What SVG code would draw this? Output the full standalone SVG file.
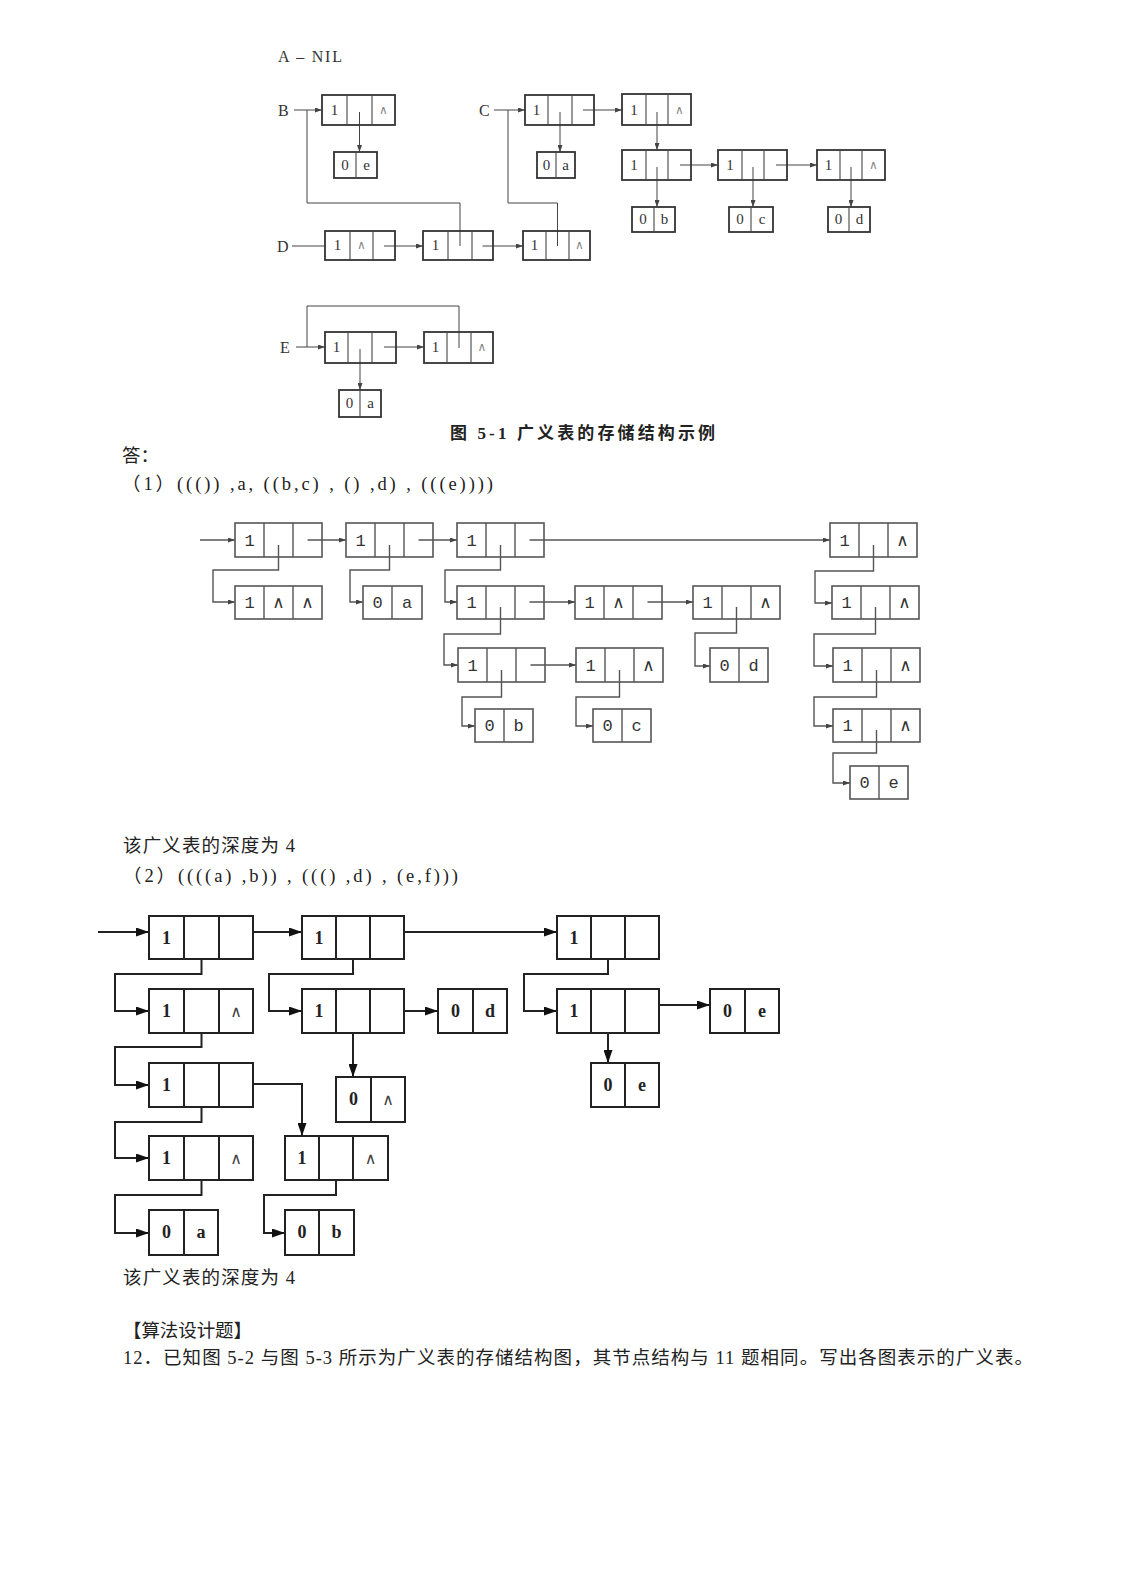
<svg xmlns="http://www.w3.org/2000/svg" width="1125" height="1577" viewBox="0 0 1125 1577">
<defs>
<style>
.bg{fill:#fff}
.f1 rect{fill:none;stroke:#333;stroke-width:1.8}
.f1 line{stroke:#444;stroke-width:1.1}
.f1 text{font-family:"Liberation Serif",serif;font-size:15px;fill:#333;text-anchor:middle}
.f1 .lam{font-family:"DejaVu Sans",sans-serif;font-size:12px;fill:#888}
.c1{fill:none;stroke:#444;stroke-width:1}
.f2 rect{fill:none;stroke:#555;stroke-width:1.6}
.f2 line{stroke:#555;stroke-width:1.4}
.f2 text{font-family:"Liberation Mono",monospace;font-size:17px;fill:#333;text-anchor:middle}
.f2 .lam{font-family:"DejaVu Sans",sans-serif;font-size:17px;fill:#333}
.c2{fill:none;stroke:#555;stroke-width:1.4}
.f3 rect{fill:none;stroke:#222;stroke-width:2}
.f3 line{stroke:#222;stroke-width:2}
.f3 text{font-family:"Liberation Serif",serif;font-size:18px;font-weight:bold;fill:#222;text-anchor:middle}
.f3 .lam{font-family:"DejaVu Sans",sans-serif;font-size:16px;font-weight:normal;fill:#444}
.c3{fill:none;stroke:#222;stroke-width:2}
.lbl{font-family:"Liberation Serif",serif;font-size:16px;fill:#333}
.txt{font-family:"Liberation Serif","Noto Sans CJK SC",serif;font-size:18.5px;fill:#222}
.txtb{font-family:"Liberation Serif","Noto Sans CJK SC",serif;font-size:17px;font-weight:bold;fill:#222}
</style>
<marker id="a1" viewBox="0 0 10 10" refX="10" refY="5" markerWidth="7" markerHeight="5" markerUnits="userSpaceOnUse" orient="auto" preserveAspectRatio="none"><path d="M0,0 L10,5 L0,10 z" fill="#444"/></marker>
<marker id="a2" viewBox="0 0 10 10" refX="10" refY="5" markerWidth="7" markerHeight="5" markerUnits="userSpaceOnUse" orient="auto" preserveAspectRatio="none"><path d="M0,0 L10,5 L0,10 z" fill="#444"/></marker>
<marker id="a3" viewBox="0 0 10 10" refX="10" refY="5" markerWidth="13" markerHeight="9" markerUnits="userSpaceOnUse" orient="auto" preserveAspectRatio="none"><path d="M0,0 L10,5 L0,10 z" fill="#111"/></marker>
</defs>
<rect class="bg" x="0" y="0" width="1125" height="1577"/>

<!-- ===== Figure 5-1 ===== -->
<text class="lbl" x="278" y="62" font-size="15" textLength="64" lengthAdjust="spacing">A – NIL</text>
<text class="lbl" x="278" y="116">B</text>
<text class="lbl" x="479" y="116">C</text>
<text class="lbl" x="277" y="252">D</text>
<text class="lbl" x="280" y="353">E</text>

<g id="fig1-connectors">
<path class="c1" d="M294,110 H307"/>
<path class="c1" d="M460,246 V203 H307 V110 H322" marker-end="url(#a1)"/>
<path class="c1" d="M494,110 H508"/>
<path class="c1" d="M557.5,246 V203 H508 V110 H525" marker-end="url(#a1)"/>
<path class="c1" d="M359.5,112 V152" marker-end="url(#a1)"/>
<path class="c1" d="M560,112 V152" marker-end="url(#a1)"/>
<path class="c1" d="M583,110 H622" marker-end="url(#a1)"/>
<path class="c1" d="M657,112 V150" marker-end="url(#a1)"/>
<path class="c1" d="M657,167 V207" marker-end="url(#a1)"/>
<path class="c1" d="M680,165 H718" marker-end="url(#a1)"/>
<path class="c1" d="M753,167 V207" marker-end="url(#a1)"/>
<path class="c1" d="M776,165 H817" marker-end="url(#a1)"/>
<path class="c1" d="M851,167 V207" marker-end="url(#a1)"/>
<path class="c1" d="M292,246 H325"/>
<path class="c1" d="M384,246 H423" marker-end="url(#a1)"/>
<path class="c1" d="M482.5,246 H523" marker-end="url(#a1)"/>
<path class="c1" d="M296,347 H307"/>
<path class="c1" d="M459,348 V306 H307 V347 H325" marker-end="url(#a1)"/>
<path class="c1" d="M360,349 V390" marker-end="url(#a1)"/>
<path class="c1" d="M384,347 H424" marker-end="url(#a1)"/>
</g>

<g class="f1">
<g id="B1"><rect x="322" y="95" width="73" height="30"/><line x1="347" y1="95" x2="347" y2="125"/><line x1="372" y1="95" x2="372" y2="125"/><text x="334.5" y="115">1</text><text class="lam" x="383.5" y="114">∧</text></g>
<g id="B_0e"><rect x="334" y="152" width="43" height="26"/><line x1="356" y1="152" x2="356" y2="178"/><text x="345" y="170">0</text><text x="366.5" y="170">e</text></g>
<g id="C1"><rect x="525" y="95" width="69" height="30"/><line x1="548" y1="95" x2="548" y2="125"/><line x1="572" y1="95" x2="572" y2="125"/><text x="536.5" y="115">1</text></g>
<g id="C_0a"><rect x="537" y="152" width="38" height="26"/><line x1="556" y1="152" x2="556" y2="178"/><text x="546.5" y="170">0</text><text x="565.5" y="170">a</text></g>
<g id="C2"><rect x="622" y="94" width="69" height="31"/><line x1="646" y1="94" x2="646" y2="125"/><line x1="668" y1="94" x2="668" y2="125"/><text x="634" y="115">1</text><text class="lam" x="679.5" y="114">∧</text></g>
<g id="C3"><rect x="622" y="150" width="69" height="30"/><line x1="646" y1="150" x2="646" y2="180"/><line x1="668" y1="150" x2="668" y2="180"/><text x="634" y="170">1</text></g>
<g id="C_0b"><rect x="632" y="207" width="43" height="25"/><line x1="654" y1="207" x2="654" y2="232"/><text x="643" y="224">0</text><text x="664.5" y="224">b</text></g>
<g id="C4"><rect x="718" y="150" width="69" height="30"/><line x1="742" y1="150" x2="742" y2="180"/><line x1="764" y1="150" x2="764" y2="180"/><text x="730" y="170">1</text></g>
<g id="C_0c"><rect x="729" y="207" width="44" height="25"/><line x1="751" y1="207" x2="751" y2="232"/><text x="740" y="224">0</text><text x="762" y="224">c</text></g>
<g id="C5"><rect x="817" y="150" width="68" height="30"/><line x1="840" y1="150" x2="840" y2="180"/><line x1="862" y1="150" x2="862" y2="180"/><text x="828.5" y="170">1</text><text class="lam" x="873.5" y="169">∧</text></g>
<g id="C_0d"><rect x="828" y="207" width="42" height="25"/><line x1="849" y1="207" x2="849" y2="232"/><text x="838.5" y="224">0</text><text x="859.5" y="224">d</text></g>
<g id="D1"><rect x="325" y="231" width="70" height="29"/><line x1="350" y1="231" x2="350" y2="260"/><line x1="373" y1="231" x2="373" y2="260"/><text x="337.5" y="250">1</text><text class="lam" x="361.5" y="249">∧</text></g>
<g id="D2"><rect x="423" y="231" width="70" height="29"/><line x1="448" y1="231" x2="448" y2="260"/><line x1="472" y1="231" x2="472" y2="260"/><text x="435.5" y="250">1</text></g>
<g id="D3"><rect x="523" y="231" width="67" height="29"/><line x1="546" y1="231" x2="546" y2="260"/><line x1="569" y1="231" x2="569" y2="260"/><text x="534.5" y="250">1</text><text class="lam" x="579.5" y="249">∧</text></g>
<g id="E1"><rect x="325" y="332" width="71" height="31"/><line x1="348" y1="332" x2="348" y2="363"/><line x1="372" y1="332" x2="372" y2="363"/><text x="336.5" y="352">1</text></g>
<g id="E_0a"><rect x="339" y="390" width="42" height="27"/><line x1="360" y1="390" x2="360" y2="417"/><text x="349.5" y="408">0</text><text x="370.5" y="408">a</text></g>
<g id="E2"><rect x="424" y="332" width="69" height="31"/><line x1="447" y1="332" x2="447" y2="363"/><line x1="471" y1="332" x2="471" y2="363"/><text x="435.5" y="352">1</text><text class="lam" x="482" y="351">∧</text></g>
</g>
<text class="txtb" x="450" y="439" textLength="265" lengthAdjust="spacing">图 5-1   广义表的存储结构示例</text>

<!-- ===== Answer (1) ===== -->
<text class="txt" x="122" y="462">答：</text>
<text class="txt" x="122" y="490" textLength="371" lengthAdjust="spacing">（1）((()) ,a, ((b,c) , () ,d) , (((e))))</text>

<g id="fig2-connectors">
<path class="c2" d="M200,540 H235" marker-end="url(#a2)"/>
<path class="c2" d="M307.5,540 H346" marker-end="url(#a2)"/>
<path class="c2" d="M418.5,540 H457" marker-end="url(#a2)"/>
<path class="c2" d="M529.5,540 H830" marker-end="url(#a2)"/>
<path class="c2" d="M278.5,545 V570 H213 V602 H235" marker-end="url(#a2)"/>
<path class="c2" d="M389.5,545 V570 H350 V602 H363" marker-end="url(#a2)"/>
<path class="c2" d="M500.5,545 V570 H445 V602 H457" marker-end="url(#a2)"/>
<path class="c2" d="M529.5,602 H575" marker-end="url(#a2)"/>
<path class="c2" d="M647.5,602 H693" marker-end="url(#a2)"/>
<path class="c2" d="M500.5,607 V634 H444 V665 H458" marker-end="url(#a2)"/>
<path class="c2" d="M530.5,665 H576" marker-end="url(#a2)"/>
<path class="c2" d="M736.5,607 V633 H695 V666 H710" marker-end="url(#a2)"/>
<path class="c2" d="M501.5,670 V697 H462 V726 H475" marker-end="url(#a2)"/>
<path class="c2" d="M619.5,670 V697 H576 V726 H593" marker-end="url(#a2)"/>
<path class="c2" d="M873.5,545 V571 H815 V603 H832" marker-end="url(#a2)"/>
<path class="c2" d="M875.5,607 V634 H814 V666 H833" marker-end="url(#a2)"/>
<path class="c2" d="M876.5,670 V697 H814 V726 H833" marker-end="url(#a2)"/>
<path class="c2" d="M876.5,730 V753 H833 V783 H850" marker-end="url(#a2)"/>
</g>

<g class="f2">
<g id="M1"><rect x="235" y="523" width="87" height="34"/><line x1="264" y1="523" x2="264" y2="557"/><line x1="293" y1="523" x2="293" y2="557"/><text x="249.5" y="546">1</text></g>
<g id="M2"><rect x="346" y="523" width="87" height="34"/><line x1="375" y1="523" x2="375" y2="557"/><line x1="404" y1="523" x2="404" y2="557"/><text x="360.5" y="546">1</text></g>
<g id="M3"><rect x="457" y="523" width="87" height="34"/><line x1="486" y1="523" x2="486" y2="557"/><line x1="515" y1="523" x2="515" y2="557"/><text x="471.5" y="546">1</text></g>
<g id="M4"><rect x="830" y="523" width="87" height="34"/><line x1="859" y1="523" x2="859" y2="557"/><line x1="888" y1="523" x2="888" y2="557"/><text x="844.5" y="546">1</text><text class="lam" x="902.5" y="546">∧</text></g>
<g id="M5"><rect x="235" y="586" width="87" height="33"/><line x1="264" y1="586" x2="264" y2="619"/><line x1="293" y1="586" x2="293" y2="619"/><text x="249.5" y="608">1</text><text class="lam" x="278.5" y="608">∧</text><text class="lam" x="307.5" y="608">∧</text></g>
<g id="M6"><rect x="363" y="586" width="59" height="33"/><line x1="392" y1="586" x2="392" y2="619"/><text x="377.5" y="608">0</text><text x="407" y="608">a</text></g>
<g id="M7"><rect x="457" y="586" width="87" height="33"/><line x1="486" y1="586" x2="486" y2="619"/><line x1="515" y1="586" x2="515" y2="619"/><text x="471.5" y="608">1</text></g>
<g id="M8"><rect x="575" y="586" width="87" height="33"/><line x1="604" y1="586" x2="604" y2="619"/><line x1="633" y1="586" x2="633" y2="619"/><text x="589.5" y="608">1</text><text class="lam" x="618.5" y="608">∧</text></g>
<g id="M9"><rect x="693" y="586" width="87" height="33"/><line x1="722" y1="586" x2="722" y2="619"/><line x1="751" y1="586" x2="751" y2="619"/><text x="707.5" y="608">1</text><text class="lam" x="765.5" y="608">∧</text></g>
<g id="M10"><rect x="832" y="586" width="87" height="33"/><line x1="861" y1="586" x2="861" y2="619"/><line x1="890" y1="586" x2="890" y2="619"/><text x="846.5" y="608">1</text><text class="lam" x="904.5" y="608">∧</text></g>
<g id="M11"><rect x="458" y="648" width="87" height="34"/><line x1="487" y1="648" x2="487" y2="682"/><line x1="516" y1="648" x2="516" y2="682"/><text x="472.5" y="671">1</text></g>
<g id="M12"><rect x="576" y="648" width="87" height="34"/><line x1="605" y1="648" x2="605" y2="682"/><line x1="634" y1="648" x2="634" y2="682"/><text x="590.5" y="671">1</text><text class="lam" x="648.5" y="671">∧</text></g>
<g id="M13"><rect x="710" y="648" width="58" height="34"/><line x1="739" y1="648" x2="739" y2="682"/><text x="724.5" y="671">0</text><text x="753.5" y="671">d</text></g>
<g id="M14"><rect x="833" y="648" width="87" height="34"/><line x1="862" y1="648" x2="862" y2="682"/><line x1="891" y1="648" x2="891" y2="682"/><text x="847.5" y="671">1</text><text class="lam" x="905.5" y="671">∧</text></g>
<g id="M15"><rect x="475" y="709" width="58" height="33"/><line x1="504" y1="709" x2="504" y2="742"/><text x="489.5" y="731">0</text><text x="518.5" y="731">b</text></g>
<g id="M16"><rect x="593" y="709" width="58" height="33"/><line x1="622" y1="709" x2="622" y2="742"/><text x="607.5" y="731">0</text><text x="636.5" y="731">c</text></g>
<g id="M17"><rect x="833" y="709" width="87" height="33"/><line x1="862" y1="709" x2="862" y2="742"/><line x1="891" y1="709" x2="891" y2="742"/><text x="847.5" y="731">1</text><text class="lam" x="905.5" y="731">∧</text></g>
<g id="M18"><rect x="850" y="766" width="58" height="33"/><line x1="879" y1="766" x2="879" y2="799"/><text x="864.5" y="788">0</text><text x="893.5" y="788">e</text></g>
</g>

<!-- ===== Answer (2) ===== -->
<text class="txt" x="123" y="852" textLength="172" lengthAdjust="spacing">该广义表的深度为 4</text>
<text class="txt" x="123" y="882" textLength="335" lengthAdjust="spacing">（2）((((a) ,b)) , ((() ,d) , (e,f)))</text>

<g id="fig3-connectors">
<path class="c3" d="M98,932 H149" marker-end="url(#a3)"/>
<path class="c3" d="M253,932 H302" marker-end="url(#a3)"/>
<path class="c3" d="M404,932 H557" marker-end="url(#a3)"/>
<path class="c3" d="M201.5,959 V974 H115 V1011 H149" marker-end="url(#a3)"/>
<path class="c3" d="M353,959 V974 H269 V1011 H302" marker-end="url(#a3)"/>
<path class="c3" d="M608,959 V974 H524 V1011 H557" marker-end="url(#a3)"/>
<path class="c3" d="M404,1011 H438" marker-end="url(#a3)"/>
<path class="c3" d="M659,1005 H710" marker-end="url(#a3)"/>
<path class="c3" d="M353,1033 V1077" marker-end="url(#a3)"/>
<path class="c3" d="M608,1033 V1063" marker-end="url(#a3)"/>
<path class="c3" d="M201.5,1033 V1047 H115 V1085 H149" marker-end="url(#a3)"/>
<path class="c3" d="M253,1084 H302 V1136" marker-end="url(#a3)"/>
<path class="c3" d="M201.5,1107 V1122 H115 V1158 H149" marker-end="url(#a3)"/>
<path class="c3" d="M201.5,1180 V1195 H115 V1233 H149" marker-end="url(#a3)"/>
<path class="c3" d="M336,1180 V1195 H264 V1233 H285" marker-end="url(#a3)"/>
</g>

<g class="f3">
<g id="N1"><rect x="149" y="916" width="104" height="43"/><line x1="184" y1="916" x2="184" y2="959"/><line x1="219" y1="916" x2="219" y2="959"/><text x="166.5" y="944">1</text></g>
<g id="N2"><rect x="302" y="916" width="102" height="43"/><line x1="336" y1="916" x2="336" y2="959"/><line x1="370" y1="916" x2="370" y2="959"/><text x="319" y="944">1</text></g>
<g id="N3"><rect x="557" y="916" width="102" height="43"/><line x1="591" y1="916" x2="591" y2="959"/><line x1="625" y1="916" x2="625" y2="959"/><text x="574" y="944">1</text></g>
<g id="N4"><rect x="149" y="989" width="104" height="44"/><line x1="184" y1="989" x2="184" y2="1033"/><line x1="219" y1="989" x2="219" y2="1033"/><text x="166.5" y="1017">1</text><text class="lam" x="236" y="1017">∧</text></g>
<g id="N5"><rect x="302" y="989" width="102" height="44"/><line x1="336" y1="989" x2="336" y2="1033"/><line x1="370" y1="989" x2="370" y2="1033"/><text x="319" y="1017">1</text></g>
<g id="N6"><rect x="438" y="989" width="69" height="44"/><line x1="473" y1="989" x2="473" y2="1033"/><text x="455.5" y="1017">0</text><text x="490" y="1017">d</text></g>
<g id="N7"><rect x="557" y="989" width="102" height="44"/><line x1="591" y1="989" x2="591" y2="1033"/><line x1="625" y1="989" x2="625" y2="1033"/><text x="574" y="1017">1</text></g>
<g id="N8"><rect x="710" y="989" width="69" height="44"/><line x1="745" y1="989" x2="745" y2="1033"/><text x="727.5" y="1017">0</text><text x="762" y="1017">e</text></g>
<g id="N9"><rect x="149" y="1063" width="104" height="44"/><line x1="184" y1="1063" x2="184" y2="1107"/><line x1="219" y1="1063" x2="219" y2="1107"/><text x="166.5" y="1091">1</text></g>
<g id="N10"><rect x="336" y="1077" width="69" height="45"/><line x1="371" y1="1077" x2="371" y2="1122"/><text x="353.5" y="1105">0</text><text class="lam" x="388" y="1105">∧</text></g>
<g id="N11"><rect x="591" y="1063" width="68" height="44"/><line x1="625" y1="1063" x2="625" y2="1107"/><text x="608" y="1091">0</text><text x="642" y="1091">e</text></g>
<g id="N12"><rect x="149" y="1136" width="104" height="44"/><line x1="184" y1="1136" x2="184" y2="1180"/><line x1="219" y1="1136" x2="219" y2="1180"/><text x="166.5" y="1164">1</text><text class="lam" x="236" y="1164">∧</text></g>
<g id="N13"><rect x="285" y="1136" width="103" height="44"/><line x1="319" y1="1136" x2="319" y2="1180"/><line x1="353" y1="1136" x2="353" y2="1180"/><text x="302" y="1164">1</text><text class="lam" x="370.5" y="1164">∧</text></g>
<g id="N14"><rect x="149" y="1210" width="69" height="45"/><line x1="184" y1="1210" x2="184" y2="1255"/><text x="166.5" y="1238">0</text><text x="201" y="1238">a</text></g>
<g id="N15"><rect x="285" y="1210" width="69" height="45"/><line x1="319" y1="1210" x2="319" y2="1255"/><text x="302" y="1238">0</text><text x="336.5" y="1238">b</text></g>
</g>

<text class="txt" x="123" y="1284" textLength="172" lengthAdjust="spacing">该广义表的深度为 4</text>
<text class="txt" x="123" y="1337" textLength="129" lengthAdjust="spacing">【算法设计题】</text>
<text class="txt" x="123" y="1364" textLength="910" lengthAdjust="spacing">12．已知图 5-2 与图 5-3 所示为广义表的存储结构图，其节点结构与 11 题相同。写出各图表示的广义表。</text>
</svg>
